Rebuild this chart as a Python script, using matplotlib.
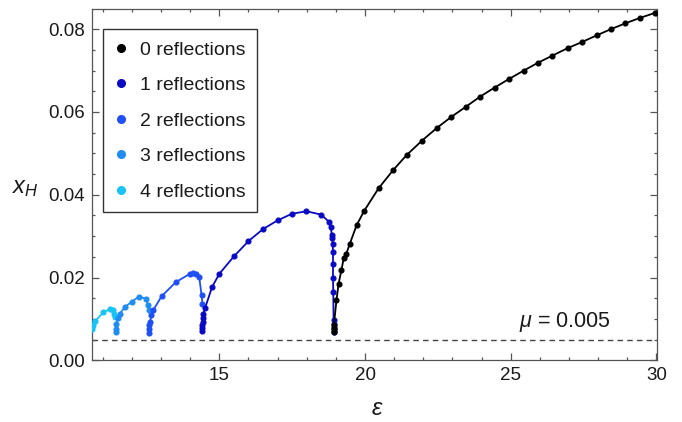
import matplotlib
matplotlib.use("Agg")
import matplotlib.pyplot as plt
from matplotlib.lines import Line2D
from matplotlib.ticker import MultipleLocator

plt.rcParams['font.family'] = ['Liberation Sans', 'DejaVu Sans']
plt.rcParams['mathtext.fontset'] = 'custom'
plt.rcParams['mathtext.rm'] = 'Liberation Sans'
plt.rcParams['mathtext.it'] = 'Liberation Sans:italic'

# ---- data ----
labels = ["0 reflections", "1 reflections", "2 reflections", "3 reflections", "4 reflections"]
colors = ["#000000", "#0a0ac4", "#1f50f5", "#1e8cf0", "#18c4f5"]

eps0 = [18.92, 18.92, 18.92, 18.93, 19.02, 19.09, 19.19, 19.27, 19.36, 19.47, 19.71, 19.97,
        20.47, 20.96, 21.43, 21.96, 22.46, 22.96, 23.47, 23.95, 24.45, 24.95, 25.45, 25.94,
        26.43, 26.95, 27.45, 27.95, 28.44, 28.93, 29.43, 29.94]
xh0 = [0.0069, 0.0074, 0.0079, 0.0085, 0.0145, 0.0184, 0.0218, 0.0247, 0.0258, 0.0280, 0.0326, 0.0361,
       0.0416, 0.0459, 0.0496, 0.0531, 0.0561, 0.0588, 0.0613, 0.0637, 0.0659, 0.0680, 0.0700, 0.0719,
       0.0736, 0.0754, 0.0769, 0.0785, 0.0800, 0.0814, 0.0827, 0.0839]

eps1 = [14.42, 14.42, 14.42, 14.43, 14.44, 14.45, 14.51, 14.75, 15.0, 15.5, 16.0, 16.5, 17.0, 17.49,
        17.99, 18.49, 18.76, 18.82, 18.86, 18.88, 18.89, 18.90, 18.90, 18.90, 18.91, 18.92, 18.92,
        18.92, 18.92]
xh1 = [0.0072, 0.0078, 0.0085, 0.0093, 0.0102, 0.0112, 0.0126, 0.0177, 0.0209, 0.0251, 0.0288, 0.0317,
       0.0338, 0.0354, 0.0360, 0.0352, 0.0335, 0.0323, 0.0303, 0.0295, 0.0281, 0.0262, 0.0232, 0.0200,
       0.0166, 0.0097, 0.0088, 0.0077, 0.0069]

eps2 = [12.58, 12.58, 12.59, 12.62, 12.67, 12.73, 13.02, 13.51, 13.99, 14.10, 14.21, 14.31, 14.39, 14.42]
xh2 = [0.0067, 0.0076, 0.0085, 0.0093, 0.0109, 0.0121, 0.0155, 0.0189, 0.0209, 0.0211, 0.0208, 0.0201,
       0.0157, 0.0137]

eps3 = [11.44, 11.44, 11.47, 11.51, 11.59, 11.76, 11.99, 12.24, 12.47, 12.56, 12.58]
xh3 = [0.0068, 0.0076, 0.0088, 0.0101, 0.0113, 0.0129, 0.0141, 0.0154, 0.0149, 0.0133, 0.0121]

eps4 = [10.62, 10.64, 10.67, 10.74, 11.02, 11.26, 11.34, 11.40, 11.43]
xh4 = [0.0075, 0.0080, 0.0086, 0.0095, 0.0116, 0.0124, 0.0121, 0.0113, 0.0105]

mu = 0.005

series = [(eps4, xh4, colors[4]), (eps3, xh3, colors[3]), (eps2, xh2, colors[2]),
          (eps1, xh1, colors[1]), (eps0, xh0, colors[0])]

# ---- figure ----
fig = plt.figure(figsize=(6.82, 4.22), dpi=100)
ax = fig.add_axes([0.1345, 0.1462, 0.8288, 0.8318])

ax.axhline(mu, color="#444444", lw=1.0, dashes=(4, 3), zorder=1)
for e, x, c in series:
    ax.plot(e, x, color=c, lw=1.3, marker="o", ms=3.4, mec=c, mfc=c, zorder=3, clip_on=True)

ax.set_xlim(10.62, 30.02)
ax.set_ylim(0.0, 0.0848)
ax.xaxis.set_major_locator(MultipleLocator(5))
ax.xaxis.set_minor_locator(MultipleLocator(1))
ax.yaxis.set_major_locator(MultipleLocator(0.02))
ax.yaxis.set_minor_locator(MultipleLocator(0.005))
ax.yaxis.set_major_formatter(matplotlib.ticker.FormatStrFormatter("%.2f"))

ax.tick_params(which="both", direction="in", top=True, right=True, colors="#555555",
               labelcolor="#1a1a1a", labelsize=13.5, width=0.9)
ax.tick_params(which="major", length=5, pad=5)
ax.tick_params(which="minor", length=2.5)
for s in ax.spines.values():
    s.set_color("#555555")
    s.set_linewidth(0.9)

ax.text(-0.118, 0.491, r"$x_H$", transform=ax.transAxes, fontsize=17,
        ha="center", va="center", color="#1a1a1a")
ax.text(0.506, -0.136, r"$\epsilon$", transform=ax.transAxes, fontsize=17,
        ha="center", va="center", color="#1a1a1a", family="DejaVu Sans")
ax.text(25.29, 0.00926, r"$\mu$ = 0.005", fontsize=15.5, ha="left", va="center", color="#1a1a1a")

handles = [Line2D([], [], ls="none", marker="o", ms=5.5, color=c) for c in colors]
leg = ax.legend(handles, labels, loc="upper left", bbox_to_anchor=(0.0195, 0.943),
                borderaxespad=0, fontsize=14, frameon=True, fancybox=False,
                labelspacing=0.92, handlelength=0.66, handletextpad=0.66,
                borderpad=0.6, edgecolor="black")
leg.get_frame().set_linewidth(1.0)
for t in leg.get_texts():
    t.set_color("#1a1a1a")

fig.savefig("out.png", dpi=100)
